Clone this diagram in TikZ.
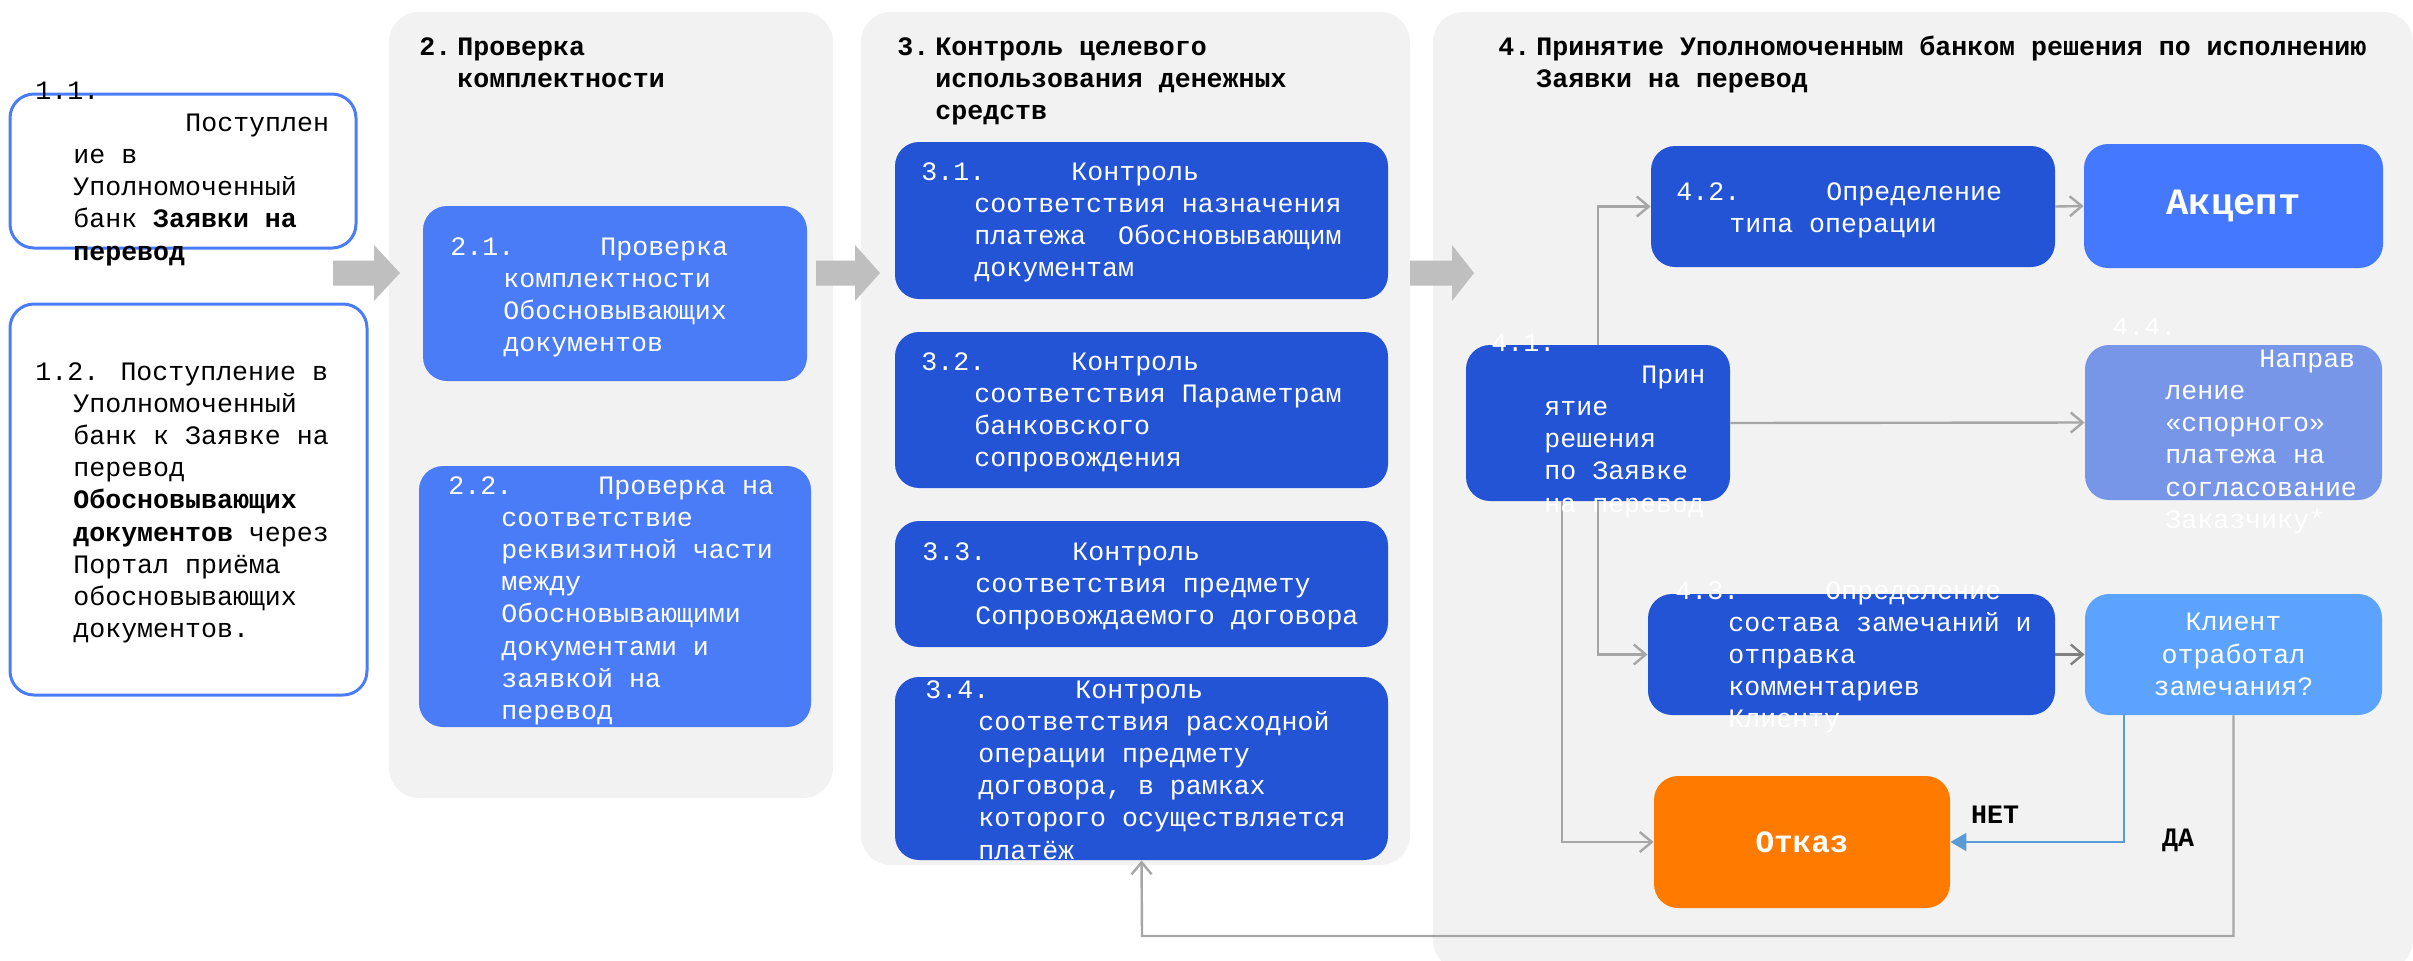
\documentclass[tikz,border=0pt]{standalone}
\usepackage{fontspec}
\setmainfont{Liberation Mono}
\usepackage{xcolor}
\definecolor{pgray}{HTML}{F2F2F2}
\definecolor{lblue}{HTML}{4A7CF8}
\definecolor{dblue}{HTML}{2454D6}
\definecolor{ablue}{HTML}{4378FF}
\definecolor{mblue}{HTML}{7896E8}
\definecolor{sblue}{HTML}{5CA3FF}
\definecolor{oorange}{HTML}{FF7B00}
\definecolor{lgray}{HTML}{A6A6A6}
\definecolor{agray}{HTML}{BFBFBF}
\definecolor{nblue}{HTML}{5B9BD5}
\usetikzlibrary{arrows.meta}
\newcommand{\hi}{\hspace*{19pt}}
\newcommand{\hii}{\hspace*{26.5pt}}
\newcommand{\nr}[1]{\makebox[75pt][l]{#1}}
\newcommand{\tnr}[1]{\makebox[19pt][l]{#1}}

\begin{document}
\begin{tikzpicture}[x=0.5pt,y=-0.5pt,every node/.style={inner sep=0pt},
  panel/.style={fill=pgray,rounded corners=15pt},
  wbox/.style={draw=lblue,line width=1.5pt,fill=white,rounded corners=12pt},
  blk/.style={rounded corners=12pt},
  txt/.style={anchor=base west,align=left,font=\fontsize{13.3}{16.1}\selectfont},
  wtxt/.style={txt,text=white},
  ttl/.style={txt,font=\fontsize{13.3}{16.1}\selectfont\bfseries},
  conn/.style={draw=lgray,line width=1.2pt,-{Straight Barb[length=6pt,width=10pt]}},
  bigarr/.style={fill=agray}]
\useasboundingbox (0,0) rectangle (2413,960);
% panels
\node[panel,minimum width=222pt,minimum height=393pt] (p2) at (611,405) {};
\node[panel,minimum width=274.5pt,minimum height=426.5pt] (p3) at (1135.5,438.5) {};
\node[panel,minimum width=490pt,minimum height=479pt] (p4) at (1923,491) {};
% block arrows
\fill[bigarr] (333,260.5) -- (374,260.5) -- (374,245) -- (400,273) -- (374,301) -- (374,285.5) -- (333,285.5) -- cycle;
\fill[bigarr] (816,260.5) -- (855,260.5) -- (855,245) -- (880,273) -- (855,301) -- (855,285.5) -- (816,285.5) -- cycle;
\fill[bigarr] (1410,260.5) -- (1452,260.5) -- (1452,245) -- (1474,273) -- (1452,301) -- (1452,285.5) -- (1410,285.5) -- cycle;
% boxes
\node[wbox,minimum width=173pt,minimum height=77pt] (b11) at (183,171) {};
\node[wbox,minimum width=178.5pt,minimum height=195.5pt] (b12) at (188.5,499.5) {};
\node[blk,fill=lblue,minimum width=192pt,minimum height=87.5pt] (b21) at (615,293.5) {};
\node[blk,fill=lblue,minimum width=196pt,minimum height=130.5pt] (b22) at (615,596.5) {};
\node[blk,fill=dblue,minimum width=246.5pt,minimum height=78.5pt] (b31) at (1141.5,220.5) {};
\node[blk,fill=dblue,minimum width=246.5pt,minimum height=78pt] (b32) at (1141.5,410) {};
\node[blk,fill=dblue,minimum width=246.5pt,minimum height=63pt] (b33) at (1141.5,584) {};
\node[blk,fill=dblue,minimum width=246.5pt,minimum height=91.5pt] (b34) at (1141.5,768.5) {};
\node[blk,fill=dblue,minimum width=202pt,minimum height=60.5pt] (b42) at (1853,206.5) {};
\node[blk,fill=ablue,minimum width=149.5pt,minimum height=62pt,text=white,font=\fontsize{18.6}{22}\selectfont\bfseries] (bacc) at (2233.5,206) {Акцепт};
\node[blk,fill=dblue,minimum width=132pt,minimum height=78pt] (b41) at (1598,423) {};
\node[blk,fill=mblue,minimum width=148.5pt,minimum height=77.5pt] (b44) at (2233.5,422.5) {};
\node[blk,fill=dblue,minimum width=203.5pt,minimum height=60.5pt] (b43) at (1851.5,654.5) {};
\node[blk,fill=sblue,minimum width=148.5pt,minimum height=60.5pt,text=white,align=center,font=\fontsize{13.3}{16.1}\selectfont] (bcl) at (2233.5,654.5) {Клиент\\отработал\\замечания?};
\node[blk,fill=oorange,minimum width=148pt,minimum height=66pt,text=white,font=\fontsize{15.5}{18}\selectfont\bfseries] (bref) at (1802,842) {Отказ};
% connectors
\draw[conn] (b41.north) |- (b42.west);
\draw[conn] (b42.east) -- (bacc.west);
\draw[conn] (b41.east) -- (b44.west);
\draw[conn] (b41.south) |- (b43.west);
\draw[conn] ([xshift=-18pt]b41.south) |- (bref.west);
\draw[conn,draw=gray] (b43.east) -- (bcl.west);
\draw[nblue,line width=1pt,-{Triangle[length=8pt,width=9pt]}] ([xshift=-55pt]bcl.south) |- (bref.east);
\coordinate (ret) at (1142,936);
\draw[conn] (bcl.south) |- (ret) -- (b34.south);
\node[font=\fontsize{13.3}{16.1}\selectfont\bfseries] (no) at (1995,815) {НЕТ};
\node[font=\fontsize{13.3}{16.1}\selectfont\bfseries] (yes) at (2178,840) {ДА};
% titles (placed at the baseline of the last line)
\node[ttl] (tt2) at (419,87.2) {\tnr{2.}Проверка\\\hi комплектности};
\node[ttl] (tt3) at (897,119.4) {\tnr{3.}Контроль целевого\\\hi использования денежных\\\hi средств};
\node[ttl] (tt4) at (1498,87.2) {\tnr{4.}Принятие Уполномоченным банком решения по исполнению\\\hi Заявки на перевод};
% texts
\node[txt] (t11) at (35,260) {1.1.\\\hspace*{75pt}Поступлен\\\hi ие в\\\hi Уполномоченный\\\hi банк \textbf{Заявки на}\\\hi\textbf{перевод}};
\node[txt] (t12) at (35,637.6) {1.2. Поступление в\\\hi Уполномоченный\\\hi банк к Заявке на\\\hi перевод\\\hi\textbf{Обосновывающих}\\\hi\textbf{документов} через\\\hi Портал приёма\\\hi обосновывающих\\\hi документов.};
\node[wtxt] (t21) at (450,351.6) {\nr{2.1.}Проверка\\\hii комплектности\\\hii Обосновывающих\\\hii документов};
\node[wtxt] (t22) at (448,719.4) {\nr{2.2.}Проверка на\\\hii соответствие\\\hii реквизитной части\\\hii между\\\hii Обосновывающими\\\hii документами и\\\hii заявкой на\\\hii перевод};
\node[wtxt] (t31) at (921,276.6) {\nr{3.1.}Контроль\\\hii соответствия назначения\\\hii платежа~ Обосновывающим\\\hii документам};
\node[wtxt] (t32) at (921,466.6) {\nr{3.2.}Контроль\\\hii соответствия Параметрам\\\hii банковского\\\hii сопровождения};
\node[wtxt] (t33) at (922,624.4) {\nr{3.3.}Контроль\\\hii соответствия предмету\\\hii Сопровождаемого договора};
\node[wtxt] (t34) at (925,859) {\nr{3.4.}Контроль\\\hii соответствия расходной\\\hii операции предмету\\\hii договора, в рамках\\\hii которого осуществляется\\\hii платёж};
\node[wtxt] (t42) at (1676,232.2) {\nr{4.2.}Определение\\\hii типа операции};
\node[wtxt] (t41) at (1491,512) {4.1.\\\hspace*{75pt}Прин\\\hii ятие\\\hii решения\\\hii по Заявке\\\hii на перевод};
\node[wtxt] (t44) at (2112,528.2) {4.4.\\\hspace*{73.5pt}Направ\\\hii ление\\\hii «спорного»\\\hii платежа на\\\hii согласование\\\hii Заказчику*};
\node[wtxt] (t43) at (1675,727.8) {\nr{4.3.}Определение\\\hii состава замечаний и\\\hii отправка\\\hii комментариев\\\hii Клиенту};
\end{tikzpicture}
\end{document}
